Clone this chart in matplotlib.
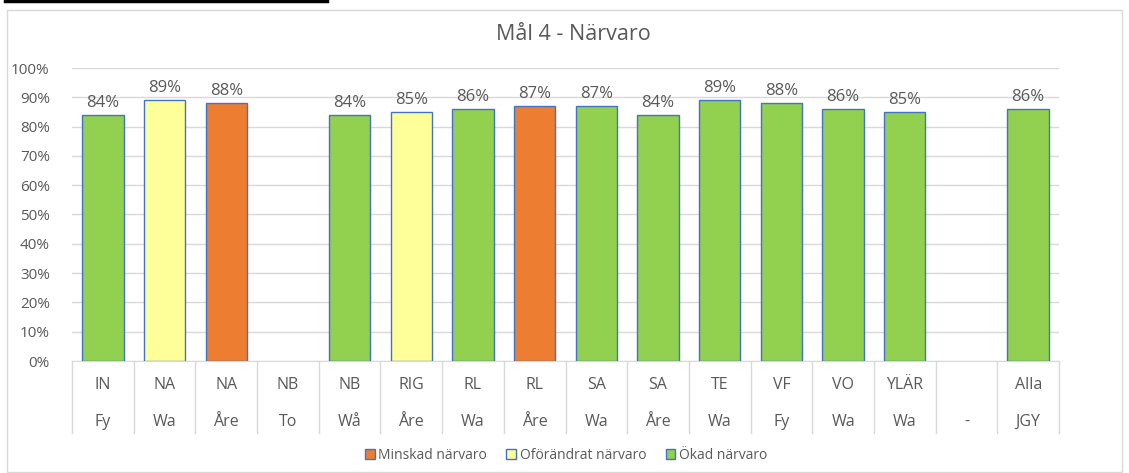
import numpy as np
import matplotlib.pyplot as plt
from matplotlib.patches import Rectangle, Patch
from matplotlib.lines import Line2D

plt.rcParams['font.family'] = ['Open Sans', 'DejaVu Sans']

program = ["IN", "NA", "NA", "NB", "NB", "RIG", "RL", "RL", "SA", "SA", "TE", "VF", "VO", "YLÄR", "", "Alla"]
orter = ["Fy", "Wa", "Åre", "To", "Wå", "Åre", "Wa", "Åre", "Wa", "Åre", "Wa", "Fy", "Wa", "Wa", "-", "JGY"]
narvaro = [84, 89, 88, np.nan, 84, 85, 86, 87, 87, 84, 89, 88, 86, 85, np.nan, 86]
status = ["okad", "oforandrat", "minskad", None, "okad", "oforandrat", "okad", "minskad",
          "okad", "okad", "okad", "okad", "okad", "okad", None, "okad"]

farger = {"minskad": "#ED7D31", "oforandrat": "#FFFF99", "okad": "#92D050"}
etiketter = {"minskad": "Minskad närvaro", "oforandrat": "Oförändrat närvaro", "okad": "Ökad närvaro"}
grey = "#595959"
kant = "#4472C4"

fig = plt.figure(figsize=(11.29, 4.73), dpi=100)
ax = fig.add_axes([72/1129, 112/473, 987/1129, 293/473])

# ram runt diagrammet + linje överst
fig.add_artist(Rectangle((7/1129, 1/473), 1115/1129, 462/473, transform=fig.transFigure,
                         fill=False, edgecolor="#D9D9D9", lw=1))
fig.add_artist(Line2D([5/1129, 327/1129], [0.997, 0.997], transform=fig.transFigure,
                      color="black", lw=2.5))

x = np.arange(len(program))
for i, (v, s) in enumerate(zip(narvaro, status)):
    if s is None or np.isnan(v):
        continue
    ax.bar(x[i], v, width=0.67, color=farger[s], edgecolor=kant, linewidth=1, zorder=3)
    ax.annotate(f"{int(v)}%", (x[i], v), xytext=(0, 3), textcoords="offset points",
                ha="center", va="bottom", fontsize=12, color=grey)

ax.set_xlim(-0.5, len(program) - 0.5)
ax.set_ylim(0, 100)
ax.set_yticks(np.arange(0, 101, 10))
ax.set_yticklabels([f"{t}%" for t in range(0, 101, 10)], fontsize=11, color=grey)
ax.tick_params(axis="y", length=0, pad=16)
ax.set_xticks([])
ax.grid(axis="y", color="#D9D9D9", lw=1, zorder=0)
for sp in ["top", "right", "left"]:
    ax.spines[sp].set_visible(False)
ax.spines["bottom"].set_color("#D9D9D9")

# kategorietiketter i två nivåer
trans = ax.get_xaxis_transform()
for b in np.arange(-0.5, len(program) + 0.5, 1):
    ax.plot([b, b], [0, -72/293], transform=trans, color="#D9D9D9", lw=1, clip_on=False)
for i in range(len(program)):
    ax.text(x[i], -24/293, program[i], transform=trans, ha="center", va="center",
            fontsize=11.5, color=grey)
    ax.text(x[i], -61/293, orter[i], transform=trans, ha="center", va="center",
            fontsize=11.5, color=grey)

fig.text(573/1129, 1 - 34/473, "Mål 4 - Närvaro", ha="center", va="center", fontsize=15.5, color=grey)

handles = [Patch(facecolor=farger[k], edgecolor=kant, label=etiketter[k]) for k in ["minskad", "oforandrat", "okad"]]
fig.legend(handles=handles, loc="center", bbox_to_anchor=(566/1129, 18/473), ncol=3, frameon=False,
           fontsize=10, handlelength=0.7, handleheight=0.7, handletextpad=0.25, columnspacing=1.4,
           labelcolor=grey)

fig.savefig("out.png", dpi=100)
